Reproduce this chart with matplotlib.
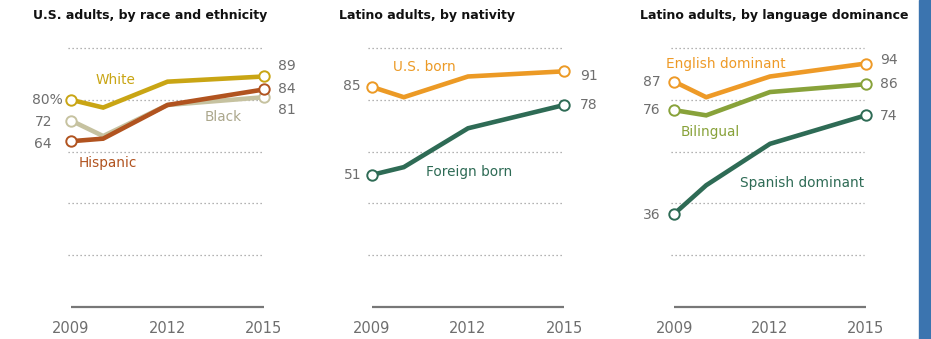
import matplotlib.pyplot as plt
from matplotlib.patches import Rectangle

plt.rcParams['font.family'] = ['DejaVu Sans']

years = [2009, 2010, 2012, 2015]
tick_years = [2009, 2012, 2015]

# panel 1: U.S. adults, by race and ethnicity
white = [80, 77, 87, 89]
black = [72, 66, 78, 81]
hispanic = [64, 65, 78, 84]

# panel 2: Latino adults, by nativity
us_born = [85, 81, 89, 91]
foreign_born = [51, 54, 69, 78]

# panel 3: Latino adults, by language dominance
english_dom = [87, 81, 89, 94]
bilingual = [76, 74, 83, 86]
spanish_dom = [36, 47, 63, 74]

GRID = '#9a9a9a'
NUM = '#6e6e6e'

fig = plt.figure(figsize=(9.31, 3.39), dpi=100)
W, H = 931, 339


def make_axes(x0, x1):
    # pixel positions of 2009 / 2015, value 0 at y=307 and 100 at y=48
    ax = fig.add_axes([x0 / W, 1 - 307 / H, (x1 - x0) / W, (307 - 48) / H])
    ax.set_xlim(2009, 2015)
    ax.set_ylim(0, 100)
    for s in ax.spines.values():
        s.set_visible(False)
    ax.set_yticks([])
    ax.set_xticks(tick_years)
    ax.tick_params(axis='x', length=0, pad=10, labelsize=10.5, labelcolor=NUM)
    for g in [20, 40, 60, 80, 100]:
        ax.plot([2008.9, 2014.95], [g, g], color=GRID, lw=0.9,
                ls=(0, (1, 2.2)), zorder=1, clip_on=False)
    ax.plot([2009, 2015], [0, 0], color='#777777', lw=1.6, zorder=1,
            clip_on=False, solid_capstyle='butt')
    return ax


def series(ax, vals, color):
    ax.plot(years, vals, color=color, lw=3.3, zorder=3, clip_on=False,
            marker='o', markevery=[0, len(vals) - 1], ms=7.5,
            mfc='white', mec=color, mew=1.4, solid_joinstyle='miter')


def num(ax, x, y, s, ha):
    ax.text(x, y, s, ha=ha, va='center', fontsize=10, color=NUM)


def name(ax, x, y, s, color):
    ax.text(x, y, s, ha='center', va='center', fontsize=9.8, color=color)


def title(x, s):
    fig.text(x / W, 1 - 15 / H, s, fontsize=9.0, fontweight='bold',
             color='#111111', va='center')


# ---- panel 1
ax1 = make_axes(71, 264)
c_white, c_black, c_hisp = '#c9a514', '#c6c2a0', '#b1531f'
series(ax1, black, c_black)
series(ax1, hispanic, c_hisp)
series(ax1, white, c_white)
num(ax1, 2008.74, 80, '80%', 'right')
num(ax1, 2008.41, 71.4, '72', 'right')
num(ax1, 2008.41, 63.0, '64', 'right')
num(ax1, 2015.42, 93.1, '89', 'left')
num(ax1, 2015.42, 84.3, '84', 'left')
num(ax1, 2015.42, 76.2, '81', 'left')
name(ax1, 2010.37, 87.6, 'White', c_white)
name(ax1, 2010.15, 55.6, 'Hispanic', c_hisp)
name(ax1, 2013.72, 73.4, 'Black', '#aba78c')
title(33, 'U.S. adults, by race and ethnicity')

# ---- panel 2
ax2 = make_axes(371.7, 564.3)
c_us, c_fb = '#ec9a25', '#2e6b55'
series(ax2, us_born, c_us)
series(ax2, foreign_born, c_fb)
num(ax2, 2008.67, 85.3, '85', 'right')
num(ax2, 2008.67, 50.9, '51', 'right')
num(ax2, 2015.48, 89.2, '91', 'left')
num(ax2, 2015.48, 78.0, '78', 'left')
name(ax2, 2010.64, 92.6, 'U.S. born', c_us)
name(ax2, 2012.02, 52.1, 'Foreign born', c_fb)
title(339, 'Latino adults, by nativity')

# ---- panel 3
ax3 = make_axes(674.3, 865.7)
c_en, c_bi, c_sp = '#ee9a27', '#88a23a', '#2e6b55'
series(ax3, spanish_dom, c_sp)
series(ax3, bilingual, c_bi)
series(ax3, english_dom, c_en)
num(ax3, 2008.58, 86.9, '87', 'right')
num(ax3, 2008.58, 76.1, '76', 'right')
num(ax3, 2008.58, 35.6, '36', 'right')
num(ax3, 2015.45, 95.4, '94', 'left')
num(ax3, 2015.45, 86.1, '86', 'left')
num(ax3, 2015.45, 73.7, '74', 'left')
name(ax3, 2010.63, 93.8, 'English dominant', c_en)
name(ax3, 2010.13, 67.6, 'Bilingual', c_bi)
name(ax3, 2013.0, 47.9, 'Spanish dominant', c_sp)
title(640, 'Latino adults, by language dominance')

# blue edge bar on the right
fig.patches.append(Rectangle((919 / W, 0), 12 / W, 1, transform=fig.transFigure,
                             color='#3b74af', zorder=0))

fig.savefig('out.png', dpi=100)
